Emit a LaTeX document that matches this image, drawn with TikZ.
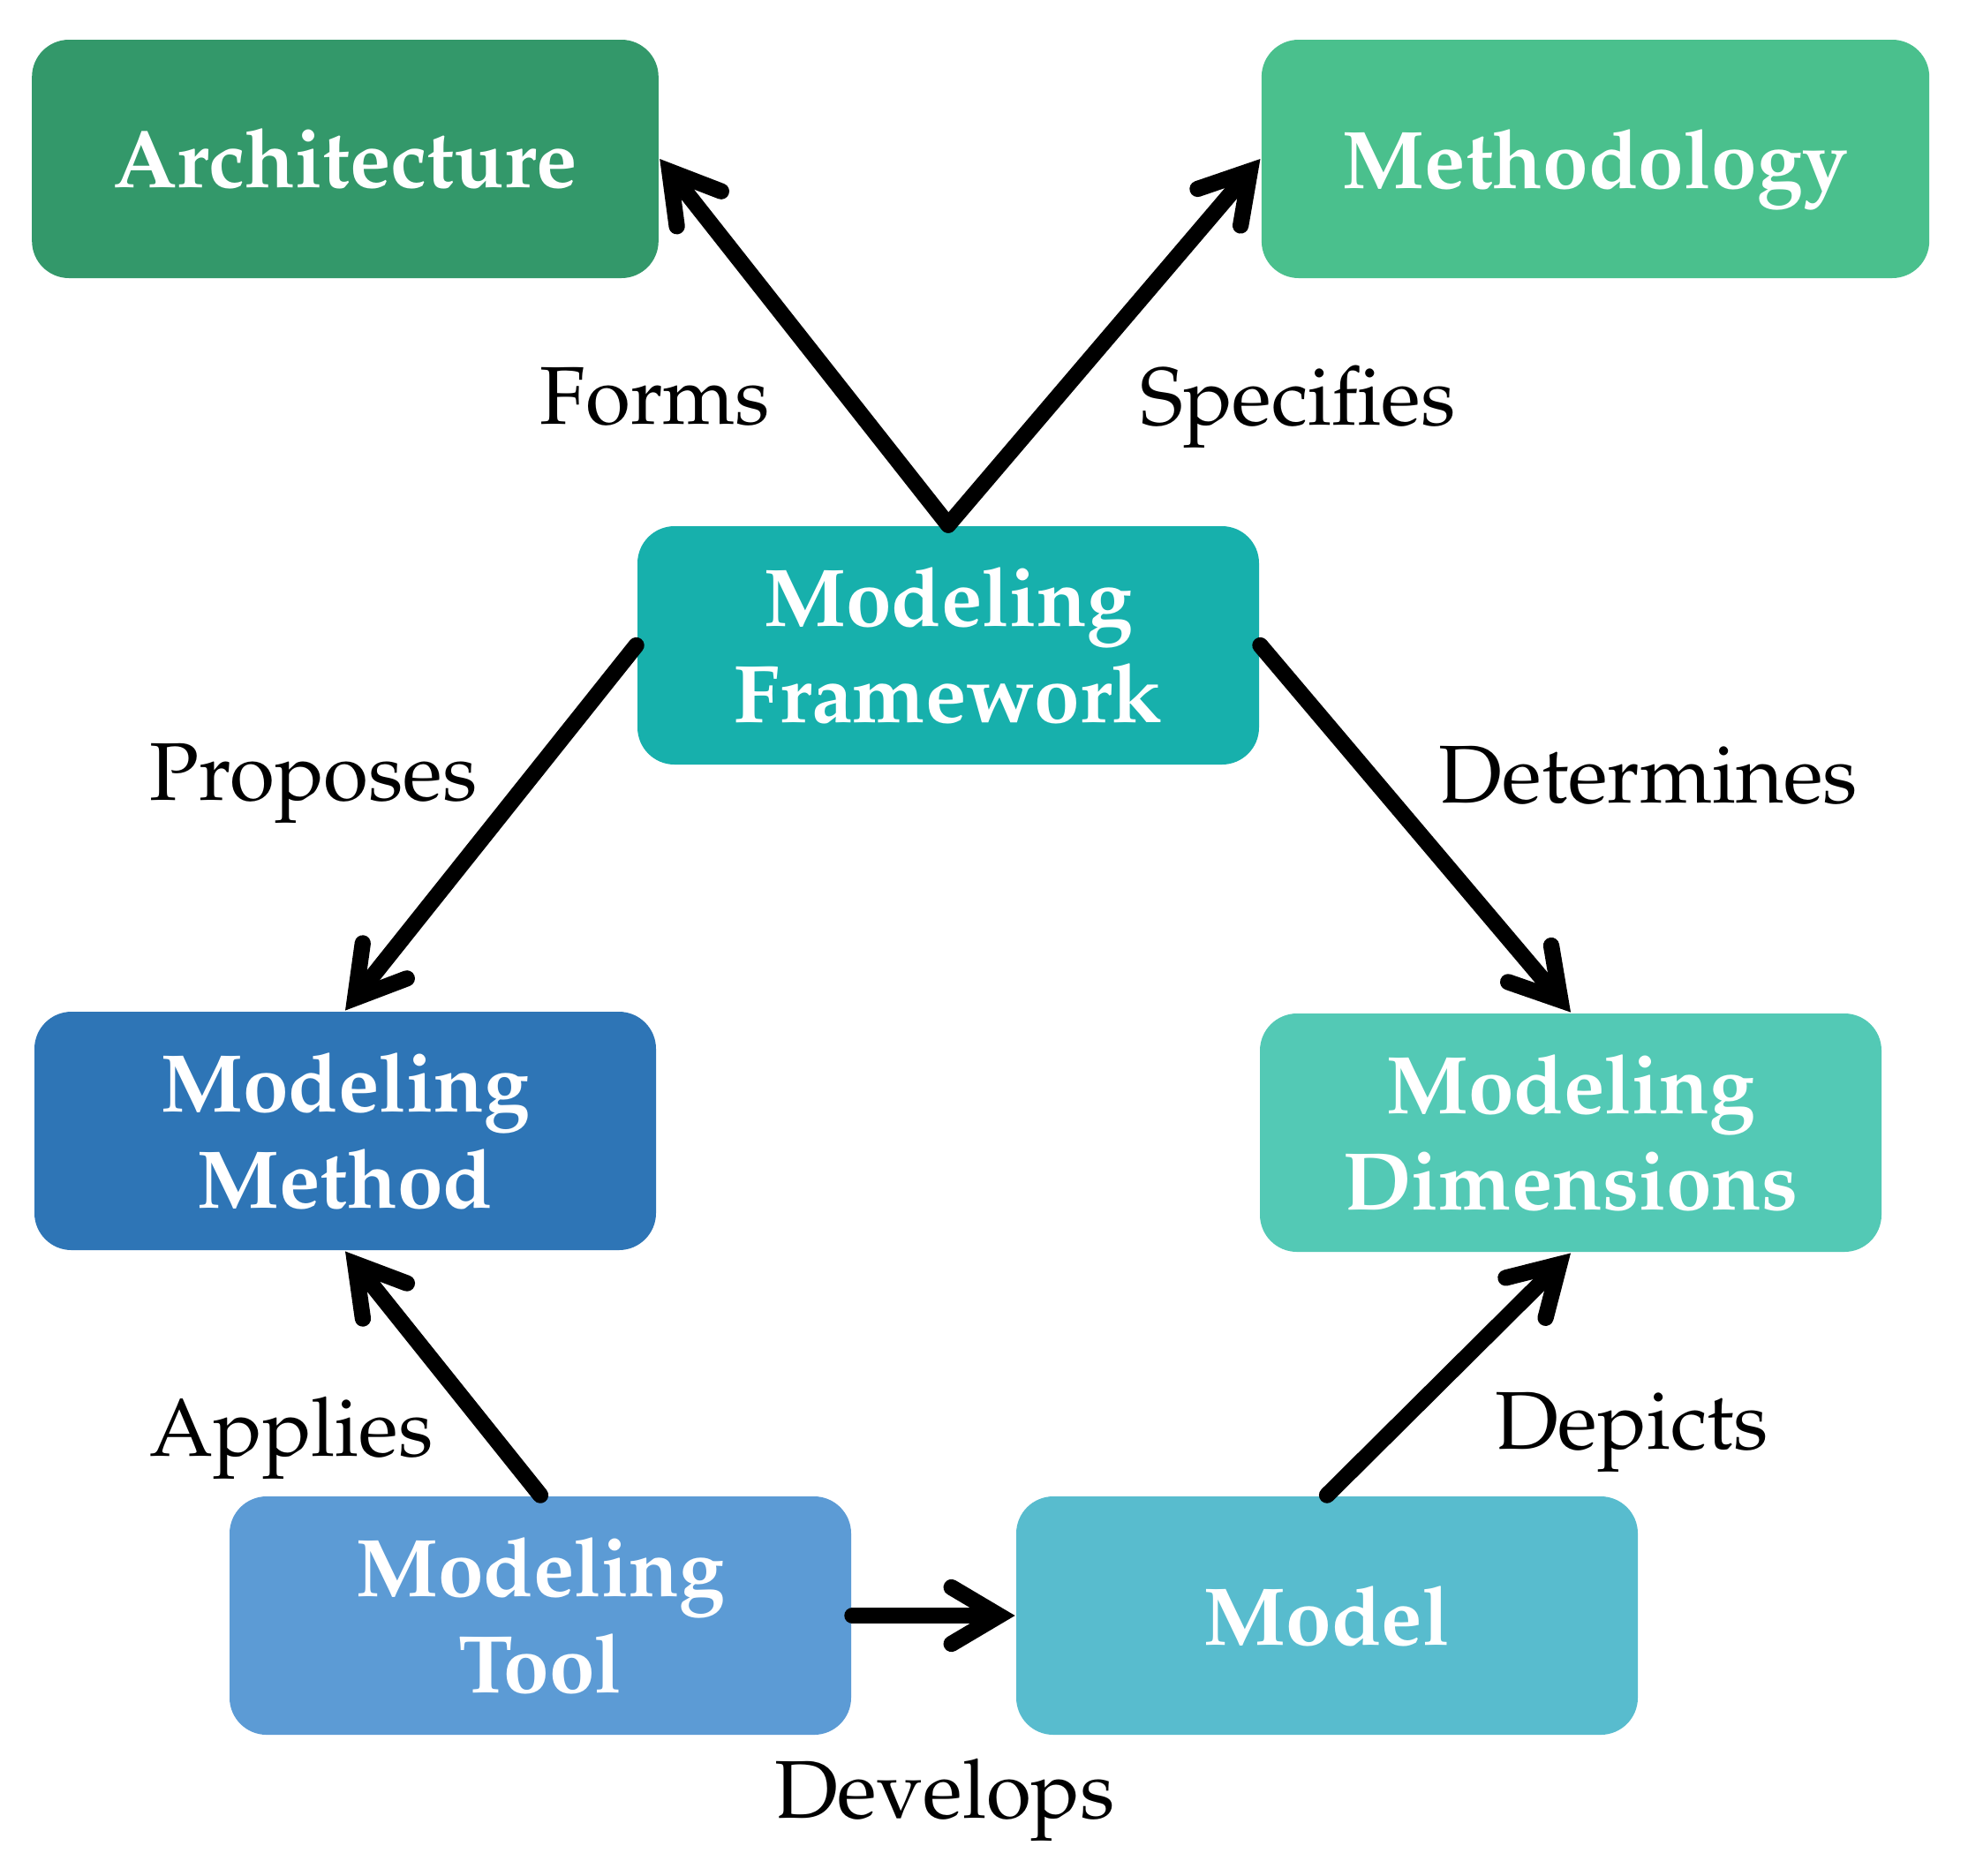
\documentclass[tikz,border=0pt]{standalone}
\usepackage[T1]{fontenc}
\usepackage{mathpazo}
\usepackage{tikz}
\usetikzlibrary{arrows.meta, positioning}

\definecolor{archgreen}{RGB}{51,152,106}
\definecolor{methgreen}{RGB}{74,192,141}
\definecolor{frameteal}{RGB}{23,176,172}
\definecolor{dimteal}{RGB}{83,201,181}
\definecolor{modelcyan}{RGB}{88,188,206}
\definecolor{toolblue}{RGB}{92,155,213}
\definecolor{methodblue}{RGB}{46,117,182}

\begin{document}
\begin{tikzpicture}[
  font=\fontsize{13.2}{16}\selectfont,
  > = {Straight Barb[length=0.27cm, width=0.32cm, line cap=round, line join=miter]},
  box/.style = {rounded corners=0.21cm, text=white, font=\fontsize{13.2}{15.6}\selectfont\bfseries,
    align=center, minimum width=3.52cm, minimum height=1.35cm, inner xsep=0.46cm},
  lbl/.style = {text depth=0pt},
  link/.style = {->, line width=2.6pt, line cap=round}
  ]
  \useasboundingbox (0,0) rectangle (11.145,-10.62);
  % boxes
  \node[box, fill=archgreen] (arch) at (1.955,-0.90) {Architecture};
  \node[box, fill=methgreen, text depth=0pt] (methodology) at (9.035,-0.90) {Methodology};
  \node[box, fill=frameteal] (frame) at (5.37,-3.655) {Modeling\\Framework};
  \node[box, fill=methodblue] (method) at (1.955,-6.405) {Modeling\\Method};
  \node[box, fill=dimteal] (dims) at (8.895,-6.415) {Modeling\\Dimensions};
  \node[box, fill=toolblue] (tool) at (3.06,-9.15) {Modeling\\Tool};
  \node[box, fill=modelcyan] (model) at (7.515,-9.15) {Model};
  % labels
  \node[lbl] (forms) at (3.71,-2.24) {Forms};
  \node[lbl] (specifies) at (7.35,-2.24) {Specifies};
  \node[lbl] (proposes) at (1.775,-4.37) {Proposes};
  \node[lbl] (determines) at (9.335,-4.385) {Determines};
  \node[lbl] (applies) at (1.65,-8.08) {Applies};
  \node[lbl] (depicts) at (9.24,-8.045) {Depicts};
  \node[lbl] (develops) at (5.35,-10.13) {Develops};
  % links
  \draw[link] (frame.north) -- (arch.east);
  \draw[link] (frame.north) -- (methodology.west);
  \draw[link] (frame.west) -- (method.north);
  \draw[link] (frame.east) -- (dims.north);
  \draw[link] (tool.north) -- (method.south);
  \draw[link] (model.north) -- (dims.south);
  \draw[link] (tool.east) -- (model.west);
\end{tikzpicture}
\end{document}
